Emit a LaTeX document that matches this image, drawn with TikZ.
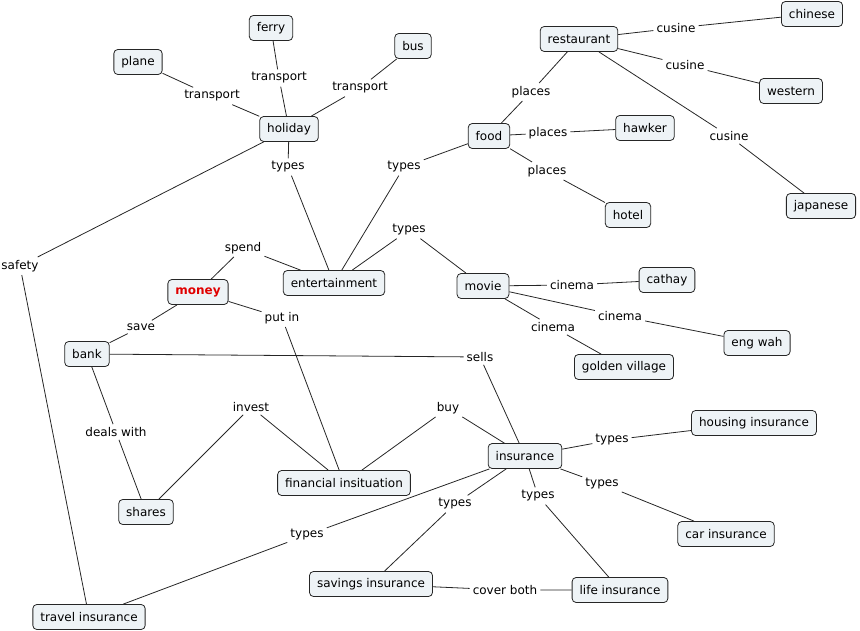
\documentclass[tikz,border=0pt]{standalone}
\usepackage{fontspec}
\setmainfont{DejaVu Sans}
\usetikzlibrary{positioning}
\definecolor{boxfill}{HTML}{EEF3F6}
\definecolor{moneyred}{HTML}{E00000}

\begin{document}
\begin{tikzpicture}[x=1pt, y=-1pt,
    concept/.style={draw=black!85, rounded corners=4pt, fill=boxfill, line width=0.8pt,
      inner xsep=7.5pt, minimum height=25pt, font=\fontsize{12}{14}\selectfont},
    phrase/.style={inner sep=3pt, font=\fontsize{12}{14}\selectfont},
    link/.style={draw=black!85, line width=0.8pt}
  ]
    \useasboundingbox (0,0) rectangle (860,631);

    % concepts
    \node[concept] (ferry) at (271,28) {ferry};
    \node[concept] (bus) at (413,46) {bus};
    \node[concept] (plane) at (138,62) {plane};
    \node[concept] (holiday) at (289,129) {holiday};
    \node[concept] (restaurant) at (579,39) {restaurant};
    \node[concept] (chinese) at (812,14) {chinese};
    \node[concept] (western) at (791,91) {western};
    \node[concept] (japanese) at (821,206) {japanese};
    \node[concept] (food) at (489,136) {food};
    \node[concept] (hawker) at (645,128) {hawker};
    \node[concept] (hotel) at (628,215) {hotel};
    \node[concept] (entert) at (334,283) {entertainment};
    \node[concept, font=\fontsize{12}{14}\selectfont\bfseries, text=moneyred] (money) at (198,292) {money};
    \node[concept] (movie) at (483,286) {movie};
    \node[concept] (cathay) at (667,280) {cathay};
    \node[concept] (engwah) at (757,343) {eng wah};
    \node[concept] (golden) at (624,367) {golden village};
    \node[concept] (bank) at (87,354) {bank};
    \node[concept] (shares) at (146,512) {shares};
    \node[concept] (financial) at (344,483) {financial insituation};
    \node[concept] (insurance) at (525,456) {insurance};
    \node[concept] (housing) at (754,423) {housing insurance};
    \node[concept] (car) at (726,534) {car insurance};
    \node[concept] (savings) at (371,584) {savings insurance};
    \node[concept] (life) at (620,590) {life insurance};
    \node[concept] (travel) at (89,617) {travel insurance};

    % linking phrases
    \node[phrase] (tplane) at (212,96) {transport};
    \node[phrase] (tferry) at (279,78) {transport};
    \node[phrase] (tbus) at (360,88) {transport};
    \node[phrase] (tyhol) at (288,167) {types};
    \node[phrase] (plres) at (531,92) {places};
    \node[phrase] (cuchi) at (676,28) {cusine};
    \node[phrase] (cuwes) at (685,65) {cusine};
    \node[phrase] (cujap) at (729,136) {cusine};
    \node[phrase] (plhaw) at (548,133) {places};
    \node[phrase] (plhot) at (547,171) {places};
    \node[phrase] (tyfood) at (404,167) {types};
    \node[phrase] (tymov) at (409,230) {types};
    \node[phrase] (spend) at (243,248) {spend};
    \node[phrase] (cicat) at (572,285) {cinema};
    \node[phrase] (cieng) at (620,316) {cinema};
    \node[phrase] (cigol) at (553,327) {cinema};
    \node[phrase] (save) at (141,327) {save};
    \node[phrase] (putin) at (282,318) {put in};
    \node[phrase] (safety) at (20,266) {safety};
    \node[phrase] (sells) at (480,357) {sells};
    \node[phrase] (invest) at (251,407) {invest};
    \node[phrase] (deals) at (116,432) {deals with};
    \node[phrase] (buy) at (448,408) {buy};
    \node[phrase] (tyhou) at (612,440) {types};
    \node[phrase] (tycar) at (602,484) {types};
    \node[phrase] (tylif) at (538,496) {types};
    \node[phrase] (tysav) at (455,504) {types};
    \node[phrase] (tytra) at (307,535) {types};
    \node[phrase] (cover) at (505,590) {cover both};

    % connections
    \draw[link] (plane) -- (tplane) -- (holiday);
    \draw[link] (ferry) -- (tferry) -- (holiday);
    \draw[link] (bus) -- (tbus) -- (holiday);
    \draw[link] (holiday) -- (tyhol) -- (entert);
    \draw[link] (holiday) -- (safety) -- (travel);
    \draw[link] (food) -- (plres) -- (restaurant);
    \draw[link] (restaurant) -- (cuchi) -- (chinese);
    \draw[link] (restaurant) -- (cuwes) -- (western);
    \draw[link] (restaurant) -- (cujap) -- (japanese);
    \draw[link] (food) -- (plhaw) -- (hawker);
    \draw[link] (food) -- (plhot) -- (hotel);
    \draw[link] (entert) -- (tyfood) -- (food);
    \draw[link] (entert) -- (tymov) -- (movie);
    \draw[link] (money) -- (spend) -- (entert);
    \draw[link] (movie) -- (cicat) -- (cathay);
    \draw[link] (movie) -- (cieng) -- (engwah);
    \draw[link] (movie) -- (cigol) -- (golden);
    \draw[link] (money) -- (save) -- (bank);
    \draw[link] (money) -- (putin) -- (financial);
    \draw[link] (bank) -- (sells) -- (insurance);
    \draw[link] (bank) -- (deals) -- (shares);
    \draw[link] (shares) -- (invest) -- (financial);
    \draw[link] (financial) -- (buy) -- (insurance);
    \draw[link] (insurance) -- (tyhou) -- (housing);
    \draw[link] (insurance) -- (tycar) -- (car);
    \draw[link] (insurance) -- (tylif) -- (life);
    \draw[link] (insurance) -- (tysav) -- (savings);
    \draw[link] (insurance) -- (tytra) -- (travel);
    \draw[link] (savings) -- (cover) -- (life);
  \end{tikzpicture}
\end{document}
